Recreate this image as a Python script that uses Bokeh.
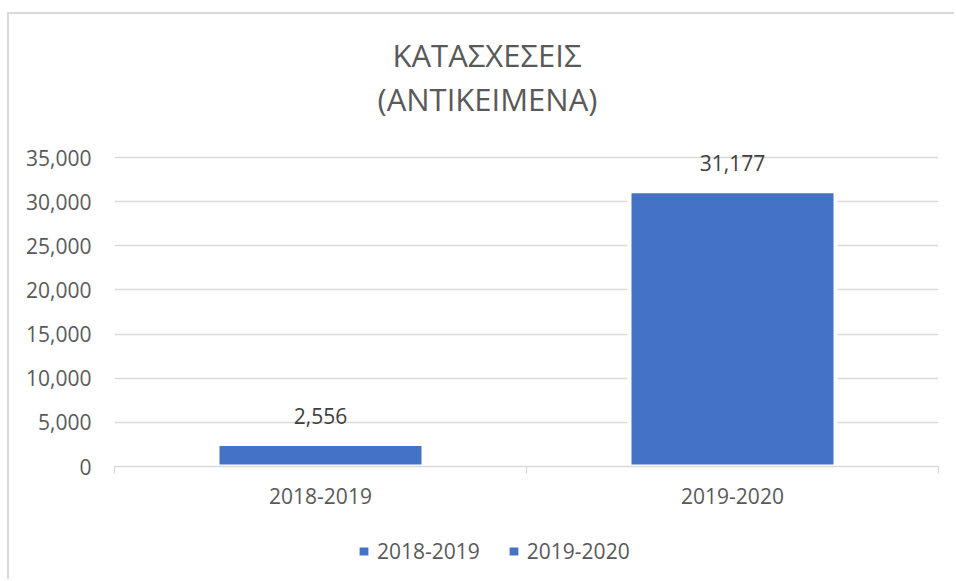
from bokeh.plotting import figure
from bokeh.layouts import column
from bokeh.models import (FixedTicker, NumeralTickFormatter, Legend, LegendItem,
                          ColumnDataSource, Range1d, Title)
from bokeh.embed import file_html
from bokeh.resources import INLINE
from bokeh.core.properties import value

# ---- data ----
title_lines = ["ΚΑΤΑΣΧΕΣΕΙΣ", "(ΑΝΤΙΚΕΙΜΕΝΑ)"]
categories = ["2018-2019", "2019-2020"]
values = [2556, 31177]
y_ticks = [0, 5000, 10000, 15000, 20000, 25000, 30000, 35000]

# ---- style ----
BAR = "#4472C4"
GRID = "#D9D9D9"
TEXT = "#595959"
DARK = "#404040"
FONT = "Open Sans"

x_pos = [i + 0.5 for i in range(len(categories))]
bar_labels = [f"{v:,}" for v in values]
src = ColumnDataSource(dict(x=x_pos, top=values, cat=categories, label=bar_labels))

W = 947
H_MAIN, H_LEG = 512, 55
AXIS_PX, FRAME_PX = 309, 317          # 35,000 gridline sits 8px below the frame top
y_end = y_ticks[-1] * FRAME_PX / AXIS_PX
p = figure(width=W, height=H_MAIN, output_backend="svg", toolbar_location=None,
           x_range=Range1d(0, len(categories)), y_range=Range1d(y_ticks[0], y_end),
           min_border_left=105, min_border_right=18, min_border_top=135, min_border_bottom=60)
p.outline_line_color = None
p.background_fill_color = "white"
p.border_fill_color = "white"

# bars with a thin white halo (as in the original)
r = p.vbar(x="x", top="top", width=0.5, source=src, fill_color=BAR,
           line_color="white", line_width=4)
p.text(x="x", y="top", text="label", source=src, y_offset=-28,
       text_align="center", text_baseline="alphabetic",
       text_font=value(FONT), text_font_size="21px", text_color=DARK)

# y axis
yax = p.yaxis[0]
yax.ticker = FixedTicker(ticks=y_ticks)
yax.formatter = NumeralTickFormatter(format="0,0")
yax.axis_line_color = None
yax.major_tick_out = 0
yax.major_tick_in = 0
yax.minor_tick_out = 0
yax.major_tick_line_color = None
yax.minor_tick_line_color = None
yax.major_label_standoff = 23
yax.major_label_text_font = FONT
yax.major_label_text_font_size = "21px"
yax.major_label_text_color = TEXT
p.ygrid.ticker = FixedTicker(ticks=y_ticks)
p.ygrid.grid_line_color = GRID
p.ygrid.grid_line_width = 1.3
p.xgrid.visible = False

# x axis (labels at category centres, small ticks at category boundaries)
xax = p.xaxis[0]
xax.ticker = FixedTicker(ticks=x_pos, minor_ticks=list(range(len(categories) + 1)))
xax.major_label_overrides = {x: c for x, c in zip(x_pos, categories)}
xax.axis_line_color = GRID
xax.axis_line_width = 1.3
xax.major_tick_out = 0
xax.major_tick_in = 0
xax.minor_tick_out = 7
xax.minor_tick_in = 0
xax.minor_tick_line_color = GRID
xax.minor_tick_line_width = 1.3
xax.major_label_standoff = 14
xax.major_label_text_font = FONT
xax.major_label_text_font_size = "21px"
xax.major_label_text_color = TEXT

# title: spacer (closest to frame), line 2, then line 1 (plot title, outermost)
p.add_layout(Title(text=" ", text_font=FONT, text_font_size="21px", standoff=0), "above")
p.add_layout(Title(text=title_lines[1], align="left", offset=263, standoff=0,
                   text_font=FONT, text_font_size="31px", text_font_style="normal",
                   text_color=TEXT), "above")
p.title.text = title_lines[0]
p.title.align = "left"
p.title.offset = 278
p.title.standoff = 0
p.title.text_font = FONT
p.title.text_font_size = "31px"
p.title.text_font_style = "normal"
p.title.text_color = TEXT

# legend strip underneath the chart (frame aligned with the chart's frame)
leg = figure(width=W, height=H_LEG, output_backend="svg", toolbar_location=None,
             x_range=Range1d(0, 1), y_range=Range1d(0, 1),
             x_axis_location=None, y_axis_location=None, min_border=0)
leg.outline_line_color = None
leg.xgrid.visible = False
leg.ygrid.visible = False
leg.background_fill_color = "white"
leg.border_fill_color = "white"
nan = float("nan")
proxies = [leg.vbar(x=[nan], top=[nan], width=0.5, fill_color=BAR, line_color=None)
           for _ in categories]
legend = Legend(items=[LegendItem(label=c, renderers=[pr]) for c, pr in zip(categories, proxies)],
                orientation="horizontal", location=(244, 16),
                glyph_width=11, glyph_height=10, label_standoff=8, spacing=28,
                padding=0, margin=0, border_line_color=None, background_fill_alpha=0,
                label_text_font=FONT, label_text_font_size="21px", label_text_color=TEXT)
leg.add_layout(legend, "center")

layout = column(p, leg, spacing=0)
layout.styles = {"margin-left": "9px", "margin-top": "14px",
                 "box-shadow": "-2px -2px 0 0 #D9D9D9"}

open("out.html", "w").write(file_html(layout, INLINE))
